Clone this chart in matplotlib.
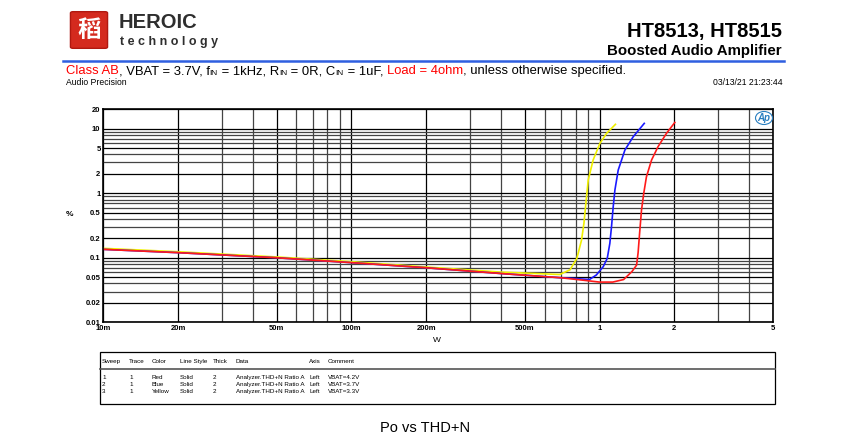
import numpy as np
import matplotlib
matplotlib.use('Agg')
import matplotlib.pyplot as plt
from matplotlib.patches import FancyBboxPatch, Rectangle, Ellipse
from matplotlib.lines import Line2D

plt.rcParams['font.family'] = ['Liberation Sans', 'Noto Sans CJK SC', 'DejaVu Sans']

# data (W, %)
red_x = [0.01, 0.02, 0.05, 0.1, 0.2, 0.4, 0.7, 0.9, 1.0, 1.13, 1.25, 1.35, 1.41, 1.43, 1.45,
         1.476, 1.507, 1.545, 1.62, 1.72, 1.86, 2.01]
red_y = [0.135, 0.12, 0.10, 0.084, 0.070, 0.057, 0.049, 0.044, 0.042, 0.042, 0.046, 0.061, 0.077,
         0.12, 0.24, 0.55, 1.0, 1.8, 3.27, 5.26, 8.47, 12.5]
blue_x = [0.01, 0.02, 0.05, 0.1, 0.2, 0.4, 0.7, 0.78, 0.91, 0.97, 1.035, 1.074, 1.1, 1.117,
          1.135, 1.153, 1.189, 1.265, 1.366, 1.514]
blue_y = [0.135, 0.12, 0.10, 0.084, 0.070, 0.057, 0.049, 0.048, 0.046, 0.054, 0.073, 0.098,
          0.167, 0.30, 0.618, 1.12, 2.29, 4.67, 7.5, 12.1]
yellow_x = [0.01, 0.02, 0.05, 0.1, 0.2, 0.4, 0.69, 0.76, 0.81, 0.846, 0.865, 0.878, 0.9,
            0.942, 1.003, 1.067, 1.159]
yellow_y = [0.14, 0.124, 0.103, 0.087, 0.072, 0.06, 0.055, 0.065, 0.098, 0.188, 0.342, 0.618,
            1.6, 3.27, 5.93, 8.47, 11.7]

xticks = [0.01, 0.02, 0.05, 0.1, 0.2, 0.5, 1, 2, 5]
xlabels = ['10m', '20m', '50m', '100m', '200m', '500m', '1', '2', '5']
yticks = [0.01, 0.02, 0.05, 0.1, 0.2, 0.5, 1, 2, 5, 10, 20]
ylabels = ['0.01', '0.02', '0.05', '0.1', '0.2', '0.5', '1', '2', '5', '10', '20']

table_cols = ['Sweep', 'Trace', 'Color', 'Line Style', 'Thick', 'Data', 'Axis', 'Comment']
table_rows = [['1', '1', 'Red', 'Solid', '2', 'Analyzer.THD+N Ratio A', 'Left', 'VBAT=4.2V'],
              ['2', '1', 'Blue', 'Solid', '2', 'Analyzer.THD+N Ratio A', 'Left', 'VBAT=3.7V'],
              ['3', '1', 'Yellow', 'Solid', '2', 'Analyzer.THD+N Ratio A', 'Left', 'VBAT=3.3V']]

W, H = 850, 441
fig = plt.figure(figsize=(8.5, 4.41), dpi=100)


def P(x, y):
    return x / W, 1 - y / H


# header / logo
fig.patches.append(FancyBboxPatch(P(73, 47), 32 / W, 34 / H, boxstyle='round,pad=0.003',
                                  transform=fig.transFigure, fc='#d42a1e', ec='#b01810'))
fig.text(*P(89, 30), '稻', color='white', fontsize=17, ha='center', va='center',
         family=['Noto Sans CJK SC'], fontweight='bold')
fig.text(*P(119, 28.5), 'HEROIC', fontsize=14.5, fontweight='bold', color='#2e2e2e',
         va='baseline')
fig.text(*P(120, 45), 't e c h n o l o g y', fontsize=9, fontweight='bold', color='#2e2e2e',
         va='baseline')
fig.text(*P(782, 37), 'HT8513, HT8515', fontsize=14.5, fontweight='bold', ha='right',
         va='baseline')
fig.text(*P(782, 55), 'Boosted Audio Amplifier', fontsize=10.8, fontweight='bold', ha='right',
         va='baseline')
fig.lines.append(Line2D([63 / W, 784 / W], [1 - 61 / H] * 2, transform=fig.transFigure,
                        color='#2f5fe0', lw=1.8))

# subtitle, pieces placed one after another (text, colour, size, baseline shift)
renderer = fig.canvas.get_renderer()
pieces = [('Class AB', 'red', 9.4, 0), (', VBAT = 3.7V, f', 'black', 9.4, 0), ('IN', 'black', 6, 1.5),
          (' = 1kHz, R', 'black', 9.4, 0), ('IN', 'black', 6, 1.5), (' = 0R, C', 'black', 9.4, 0),
          ('IN', 'black', 6, 1.5), (' = 1uF, ', 'black', 9.4, 0), ('Load = 4ohm', 'red', 9.4, 0),
          (', unless otherwise specified.', 'black', 9.4, 0)]
xcur = 66
for s, c, fs, dy in pieces:
    t = fig.text(*P(xcur, 74 + dy), s, color=c, fontsize=fs, va='baseline')
    bb = t.get_window_extent(renderer)
    xcur += bb.width
fig.text(*P(66, 85), 'Audio Precision', fontsize=6.2, va='baseline')
fig.text(*P(783, 85), '03/13/21 21:23:44', fontsize=6.2, va='baseline', ha='right')

# chart
ax = fig.add_axes([103.3 / W, 1 - 322.3 / H, (773 - 103.3) / W, (322.3 - 109.3) / H])
ax.set_xscale('log')
ax.set_yscale('log')
ax.set_xlim(0.01, 5)
ax.set_ylim(0.01, 20)
ax.grid(which='major', color='black', lw=0.9)
ax.grid(which='minor', color='#444444', lw=0.9)
ax.set_axisbelow(True)
ax.plot(yellow_x, yellow_y, color='#f0f000', lw=1.2)
ax.plot(blue_x, blue_y, color='#1a1aff', lw=1.2)
ax.plot(red_x, red_y, color='#ff1a1a', lw=1.2)
ax.set_xticks(xticks)
ax.set_xticklabels(xlabels)
ax.set_yticks(yticks)
ax.set_yticklabels(ylabels)
ax.tick_params(which='both', length=0, labelsize=5.5, pad=2)
for lbl in ax.get_xticklabels() + ax.get_yticklabels():
    lbl.set_fontweight('bold')
for sp in ax.spines.values():
    sp.set_linewidth(1.2)

# Ap badge
fig.patches.append(Ellipse(P(764, 118), 17 / W, 13 / H, transform=fig.transFigure,
                           fill=False, ec='#2a7fc0', lw=0.8))
fig.text(*P(764, 118), 'Ap', ha='center', va='center', color='#2a7fc0',
         fontsize=7, fontstyle='italic', fontweight='bold')
fig.text(*P(70, 215), '%', fontsize=6, fontweight='bold', ha='center', va='center')
fig.text(*P(437, 341), 'W', fontsize=6, ha='center', va='center')

# trace table
fig.patches.append(Rectangle(P(100, 404), 675 / W, 52 / H, transform=fig.transFigure,
                             fill=False, ec='black', lw=0.9))
fig.lines.append(Line2D([100 / W, 775 / W], [1 - 369 / H] * 2, transform=fig.transFigure,
                        color='#555555', lw=1.2))
col_x = [102, 129, 152, 180, 213, 236, 309, 328]
for cx, name in zip(col_x, table_cols):
    fig.text(*P(cx, 363), name, fontsize=4.5, va='baseline')
for i, row in enumerate(table_rows):
    for cx, val in zip(col_x, row):
        fig.text(*P(cx, 379 + 7 * i), val, fontsize=4.5, va='baseline')

fig.text(*P(425, 432), 'Po vs THD+N', fontsize=10.5, ha='center', va='baseline')

fig.savefig('out.png', dpi=100)
